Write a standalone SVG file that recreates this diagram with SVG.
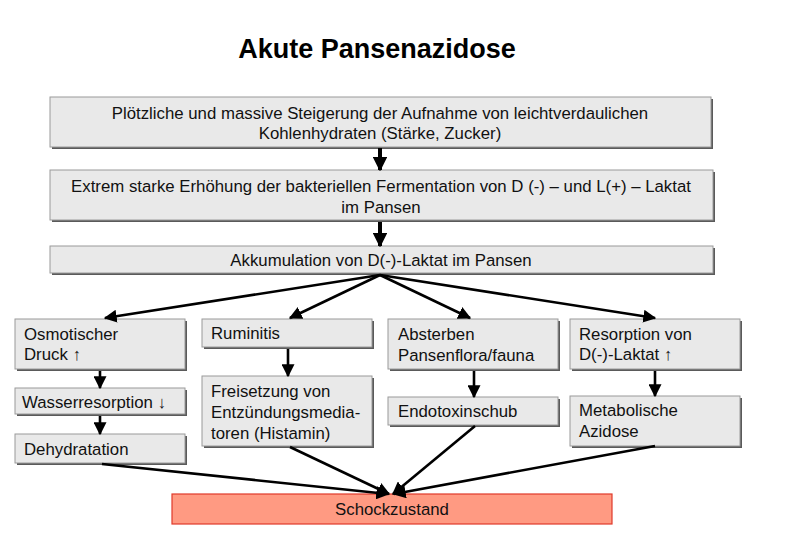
<svg xmlns="http://www.w3.org/2000/svg" width="800" height="540" viewBox="0 0 800 540">
<defs>
<style>
.box{fill:#e9e9e9;stroke:#9a9a9a;stroke-width:1}
.sh{fill:#5a5a5a}
.t{font-family:"Liberation Sans",Arial,sans-serif;font-size:16.8px;fill:#111}
.c{text-anchor:middle}
.title{font-family:"Liberation Sans",Arial,sans-serif;font-size:27px;font-weight:bold;text-anchor:middle;fill:#000}
.ln{stroke:#000;stroke-width:2.6;fill:none}
.lnb{stroke:#000;stroke-width:4;fill:none}
</style>
<marker id="ah" viewBox="0 0 10 10" refX="9" refY="5" markerWidth="5" markerHeight="5" orient="auto" markerUnits="strokeWidth">
<path d="M0,0 L10,5 L0,10 z" fill="#000"/>
</marker>
<marker id="ahb" viewBox="0 0 10 10" refX="9" refY="5" markerWidth="3.6" markerHeight="3.6" orient="auto" markerUnits="strokeWidth">
<path d="M0,0 L10,5 L0,10 z" fill="#000"/>
</marker>
</defs>
<rect width="800" height="540" fill="#fff"/>
<text class="title" x="377" y="58">Akute Pansenazidose</text>

<g id="n1"><rect class="sh" x="52" y="99" width="661" height="50"/><rect class="box" x="50" y="97" width="661" height="50"/>
<text class="t c" x="380" y="119">Plötzliche und massive Steigerung der Aufnahme von leichtverdaulichen</text>
<text class="t c" x="380" y="139">Kohlenhydraten (Stärke, Zucker)</text></g>

<g id="n2"><rect class="sh" x="52" y="172" width="663" height="50"/><rect class="box" x="50" y="170" width="663" height="50"/>
<text class="t c" x="381" y="192">Extrem starke Erhöhung der bakteriellen Fermentation von D (-) – und L(+) – Laktat</text>
<text class="t c" x="381" y="213">im Pansen</text></g>

<g id="n3"><rect class="sh" x="52" y="248" width="663" height="27"/><rect class="box" x="50" y="246" width="663" height="27"/>
<text class="t c" x="381" y="266">Akkumulation von D(-)-Laktat im Pansen</text></g>

<g id="n4"><rect class="sh" x="17" y="321" width="170" height="50"/><rect class="box" x="15" y="319" width="170" height="50"/>
<text class="t" x="24" y="340">Osmotischer</text><text class="t" x="24" y="360">Druck ↑</text></g>

<g id="n5"><rect class="sh" x="17" y="390" width="170" height="26"/><rect class="box" x="15" y="388" width="170" height="26"/>
<text class="t" x="22" y="408">Wasserresorption ↓</text></g>

<g id="n6"><rect class="sh" x="17" y="436" width="170" height="29"/><rect class="box" x="15" y="434" width="170" height="29"/>
<text class="t" x="24" y="455">Dehydratation</text></g>

<g id="n7"><rect class="sh" x="204" y="321" width="170" height="28"/><rect class="box" x="202" y="319" width="170" height="28"/>
<text class="t" x="211" y="339">Ruminitis</text></g>

<g id="n8"><rect class="sh" x="204" y="378" width="170" height="70"/><rect class="box" x="202" y="376" width="170" height="70"/>
<text class="t" x="211" y="397">Freisetzung von</text><text class="t" x="211" y="418">Entzündungsmedia-</text><text class="t" x="211" y="439">toren (Histamin)</text></g>

<g id="n9"><rect class="sh" x="390" y="321" width="170" height="50"/><rect class="box" x="388" y="319" width="170" height="50"/>
<text class="t" x="398" y="340">Absterben</text><text class="t" x="398" y="361">Pansenflora/fauna</text></g>

<g id="n10"><rect class="sh" x="390" y="399" width="170" height="28"/><rect class="box" x="388" y="397" width="170" height="28"/>
<text class="t" x="398" y="417">Endotoxinschub</text></g>

<g id="n11"><rect class="sh" x="572" y="321" width="170" height="50"/><rect class="box" x="570" y="319" width="170" height="50"/>
<text class="t" x="579" y="340">Resorption von</text><text class="t" x="579" y="360">D(-)-Laktat ↑</text></g>

<g id="n12"><rect class="sh" x="572" y="398" width="170" height="50"/><rect class="box" x="570" y="396" width="170" height="50"/>
<text class="t" x="579" y="416">Metabolische</text><text class="t" x="579" y="437">Azidose</text></g>

<g id="n13"><rect x="172" y="494" width="440" height="30" fill="#ff9a82" stroke="#e03a2a" stroke-width="1.2"/>
<text class="t c" x="392" y="515">Schockzustand</text></g>

<g id="connectors">
<line class="lnb" x1="380" y1="148" x2="380" y2="170" marker-end="url(#ahb)"/>
<line class="lnb" x1="380" y1="222" x2="380" y2="246" marker-end="url(#ahb)"/>
<line class="ln" x1="380" y1="275" x2="105" y2="318" marker-end="url(#ah)"/>
<line class="ln" x1="380" y1="275" x2="290" y2="318" marker-end="url(#ah)"/>
<line class="ln" x1="380" y1="275" x2="470" y2="318" marker-end="url(#ah)"/>
<line class="ln" x1="380" y1="275" x2="655" y2="318" marker-end="url(#ah)"/>
<line class="ln" x1="100" y1="371" x2="100" y2="388" marker-end="url(#ah)"/>
<line class="ln" x1="100" y1="416" x2="100" y2="434" marker-end="url(#ah)"/>
<line class="ln" x1="288" y1="349" x2="288" y2="376" marker-end="url(#ah)"/>
<line class="ln" x1="474" y1="371" x2="474" y2="397" marker-end="url(#ah)"/>
<line class="ln" x1="655" y1="371" x2="655" y2="396" marker-end="url(#ah)"/>
<line class="ln" x1="102" y1="464" x2="388" y2="494" marker-end="url(#ah)"/>
<line class="ln" x1="290" y1="447" x2="389" y2="494" marker-end="url(#ah)"/>
<line class="ln" x1="475" y1="426" x2="393" y2="494" marker-end="url(#ah)"/>
<line class="ln" x1="655" y1="446" x2="394" y2="494" marker-end="url(#ah)"/>
</g>
</svg>
